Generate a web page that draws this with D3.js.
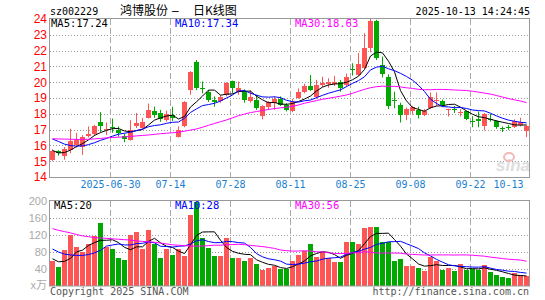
<!DOCTYPE html>
<html><head><meta charset="utf-8">
<script src="https://cdn.jsdelivr.net/npm/d3@7/dist/d3.min.js"></script>
<style>body{margin:0;background:#fff}svg{display:block}</style>
</head><body><svg id="c" width="545" height="300"></svg>
<script>
// ---------- data ----------
const dates = [
"2025-06-16","2025-06-17","2025-06-18","2025-06-19","2025-06-20","2025-06-23","2025-06-24","2025-06-25","2025-06-26","2025-06-27",
"2025-06-30","2025-07-01","2025-07-02","2025-07-03","2025-07-04","2025-07-07","2025-07-08","2025-07-09","2025-07-10","2025-07-11",
"2025-07-14","2025-07-15","2025-07-16","2025-07-17","2025-07-18","2025-07-21","2025-07-22","2025-07-23","2025-07-24","2025-07-25",
"2025-07-28","2025-07-29","2025-07-30","2025-07-31","2025-08-01","2025-08-04","2025-08-05","2025-08-06","2025-08-07","2025-08-08",
"2025-08-11","2025-08-12","2025-08-13","2025-08-14","2025-08-15","2025-08-18","2025-08-19","2025-08-20","2025-08-21","2025-08-22",
"2025-08-25","2025-08-26","2025-08-27","2025-08-28","2025-08-29","2025-09-01","2025-09-02","2025-09-03","2025-09-04","2025-09-05",
"2025-09-08","2025-09-09","2025-09-10","2025-09-11","2025-09-12","2025-09-15","2025-09-16","2025-09-17","2025-09-18","2025-09-19",
"2025-09-22","2025-09-23","2025-09-24","2025-09-25","2025-09-26","2025-09-29","2025-09-30","2025-10-09","2025-10-10","2025-10-13"];

const open  = [15.10,15.62,15.30,15.70,16.05,15.90,16.60,16.75,17.50,16.95,
               17.15,16.98,16.57,16.36,17.20,17.10,17.75,18.18,18.05,17.60,
               17.95,16.55,17.20,19.50,21.28,19.65,19.35,18.85,18.78,19.20,
               20.08,19.35,19.45,18.80,18.90,17.85,18.40,18.68,18.95,18.57,
               18.20,19.00,19.37,19.73,19.05,19.80,19.90,19.88,20.04,19.80,
               20.85,20.45,20.90,22.15,23.90,21.10,20.30,18.85,18.57,17.95,
               18.20,18.25,17.95,18.35,18.78,18.82,18.28,18.32,18.10,18.15,
               17.55,17.68,17.20,17.65,17.56,17.12,17.15,17.16,17.30,16.88];
const high  = [15.75,15.70,15.90,17.05,16.80,16.65,17.20,17.30,18.10,17.45,
               17.70,17.20,16.75,17.60,18.05,17.75,18.65,18.45,18.25,18.20,
               18.45,17.20,18.80,20.70,21.40,20.05,19.50,19.10,19.20,20.00,
               20.10,20.05,19.55,19.50,19.20,18.55,18.80,19.10,19.10,18.67,
               18.95,19.60,19.90,20.45,20.15,20.35,20.25,20.40,20.15,20.55,
               21.20,21.85,23.10,24.00,23.95,21.62,20.50,19.40,18.70,18.40,
               18.50,18.45,18.30,19.35,19.35,18.90,18.32,18.50,18.30,18.20,
               17.85,18.15,18.05,18.00,17.60,17.20,17.30,17.65,17.75,17.30];
const low   = [15.00,15.35,15.10,15.50,15.85,15.40,16.50,16.60,16.85,16.65,
               16.80,16.55,16.20,16.30,17.10,17.05,17.70,17.75,17.50,17.50,
               17.55,16.50,17.15,19.20,19.50,19.30,18.75,18.45,18.70,19.10,
               19.30,19.20,18.70,18.70,18.25,17.65,18.25,18.25,18.50,18.15,
               18.10,18.95,19.30,19.45,18.95,19.70,19.65,19.75,19.40,19.70,
               20.42,20.40,20.85,21.90,21.40,20.30,18.30,18.35,17.45,17.60,
               17.95,17.70,17.85,18.30,18.50,18.45,17.83,18.05,17.83,17.60,
               17.15,17.15,16.95,17.50,17.05,16.85,16.98,17.10,17.20,16.52];
const close = [15.65,15.55,15.80,16.30,16.35,16.55,16.75,17.20,17.20,17.05,
               17.10,16.80,16.42,16.95,17.40,17.45,18.25,17.95,17.65,18.00,
               17.75,17.00,18.75,20.65,19.65,19.55,18.90,18.75,19.05,19.95,
               19.65,19.62,18.90,19.05,18.35,18.50,18.72,18.95,18.57,18.25,
               18.75,19.37,19.73,19.52,19.85,19.98,20.04,20.04,19.62,20.30,
               20.78,21.15,22.15,23.90,21.55,20.53,18.50,18.80,17.95,18.30,
               18.45,17.90,18.20,19.05,18.85,18.55,18.30,18.28,18.12,17.66,
               17.50,17.52,17.98,17.60,17.16,17.08,17.12,17.55,17.50,17.24];
const volume = [59,45,84,121,92,80,100,118,148,92,
                86,67,62,120,126,86,131,98,67,86,
                72,87,70,168,198,112,89,70,70,112,
                67,66,58,66,52,37,42,47,39,41,
                58,74,82,100,68,80,66,56,56,103,
                103,100,136,140,140,103,103,60,63,47,
                47,42,35,68,59,37,42,35,51,38,
                39,38,49,32,27,21,18,30,27,23];

const ma5Head   = [15.68,15.52,15.55,15.70];
const ma10Head  = [16.40,16.25,16.08,15.99,15.95,15.97,16.05,16.17,16.32];
const ma30Head  = [16.42,16.41,16.40,16.39,16.38,16.38,16.39,16.41,16.44,16.48,
                   16.50,16.52,16.54,16.57,16.60,16.63,16.66,16.70,16.74,16.77,
                   16.80,16.84,16.90,16.97,17.04,17.15,17.27,17.39,17.50];
const vma5Head  = [64,57,58,65];
const vma10Head = [87,80,75,73,72,72,74,78,84];
const vma30Head = [135,131,128,125,121,118,116,114,113,112,
                   111,110,109,108,106,105,104,103,101,99,
                   97,96,95,94,94,94,95,96,96];

const priceTicks = [14,15,16,17,18,19,20,21,22,23,24];
const volTicks = [40,80,120,160,200];
const xTickIdx = [10,20,30,40,50,60,70,79];
const xTickLabels = ["2025-06-30","07-14","07-28","08-11","08-25","09-08","09-22","10-13"];
const priceLegend = ["MA5:17.24","MA10:17.34","MA30:18.63"];
const volLegend = ["MA5:20","MA10:28","MA30:56"];
const maColors = ["#000000","#0000ff","#ff00ff"];

// ---------- helpers ----------
function rolling(arr, n, head){
  return arr.map((v,i)=> i < n-1 ? head[i] : d3.mean(arr.slice(i-n+1,i+1)));
}
const RED = "#ff5555", GREEN = "#00a800";
const mono = "'DejaVu Sans Mono', 'Liberation Mono', monospace";

const svg = d3.select("#c");
const N = dates.length;
const x = d3.scaleLinear().domain([0,N]).range([50,530]);
const cx = i => x(i)+2.5;
const yP = d3.scaleLinear().domain([14,24]).range([177,19]);
const yV = d3.scaleLinear().domain([0,200]).range([286,201]);

const P = {top:19,bottom:177}, V = {top:201,bottom:286};

// clip paths
const defs = svg.append("defs");
defs.append("clipPath").attr("id","cp").append("rect").attr("x",50).attr("y",19).attr("width",480).attr("height",158);
defs.append("clipPath").attr("id","cv").append("rect").attr("x",50).attr("y",201).attr("width",480).attr("height",85);

// ---------- grids ----------
function grid(panel, yScale, ticks){
  const g = svg.append("g");
  g.selectAll("line.h").data(ticks).join("line")
    .attr("x1",50).attr("x2",529)
    .attr("y1",d=>Math.round(yScale(d))+0.5).attr("y2",d=>Math.round(yScale(d))+0.5)
    .attr("stroke","#999").attr("stroke-dasharray","1,2");
  g.selectAll("line.v").data(xTickIdx.slice(0,-1)).join("line")
    .attr("x1",d=>x(d)+0.5).attr("x2",d=>x(d)+0.5)
    .attr("y1",panel.top).attr("y2",panel.bottom)
    .attr("stroke","#aaa").attr("stroke-dasharray","6,3");
}
grid(P, yP, priceTicks.filter(t=>t>14&&t<24));
grid(V, yV, volTicks.filter(t=>t<200));

// watermark
const wm = svg.append("g");
wm.append("text").attr("x",496).attr("y",171).attr("font-family","'Liberation Sans',Arial,sans-serif")
  .attr("font-style","italic").attr("font-weight","bold").attr("font-size",17)
  .attr("fill","#dedede").text("sina");
wm.append("ellipse").attr("cx",509).attr("cy",157).attr("rx",5).attr("ry",4)
  .attr("fill","none").attr("stroke","#f3b7b7").attr("stroke-width",2);

// ---------- candles ----------
const cg = svg.append("g").attr("clip-path","url(#cp)");
const idx = d3.range(N);
const col = i => close[i] >= open[i] ? RED : GREEN;
cg.selectAll("rect.w").data(idx).join("rect")
  .attr("x",i=>cx(i)-0.5).attr("width",1)
  .attr("y",i=>yP(high[i])).attr("height",i=>Math.max(1,yP(low[i])-yP(high[i])))
  .attr("fill",col);
cg.selectAll("rect.b").data(idx).join("rect")
  .attr("x",i=>x(i)).attr("width",5)
  .attr("y",i=>Math.round(yP(Math.max(open[i],close[i]))))
  .attr("height",i=>Math.max(1,Math.round(yP(Math.min(open[i],close[i])))-Math.round(yP(Math.max(open[i],close[i])))))
  .attr("fill",col);

const line = ys => d3.line().x((d,i)=>cx(i)).y(d=>ys(d));
const pMA = [rolling(close,5,ma5Head), rolling(close,10,ma10Head), rolling(close,30,ma30Head)];
pMA.forEach((s,k)=>cg.append("path").attr("d",line(yP)(s)).attr("fill","none")
  .attr("stroke",maColors[k]).attr("stroke-width",1));

// ---------- volume ----------
const vg = svg.append("g").attr("clip-path","url(#cv)");
vg.selectAll("rect").data(idx).join("rect")
  .attr("x",i=>x(i)).attr("width",5)
  .attr("y",i=>Math.round(yV(volume[i]))).attr("height",i=>286-Math.round(yV(volume[i])))
  .attr("fill",col);
const vMA = [rolling(volume,5,vma5Head), rolling(volume,10,vma10Head), rolling(volume,30,vma30Head)];
vMA.forEach((s,k)=>vg.append("path").attr("d",line(yV)(s)).attr("fill","none")
  .attr("stroke",maColors[k]).attr("stroke-width",1));

// ---------- borders ----------
svg.append("rect").attr("x",49.5).attr("y",18.5).attr("width",480).attr("height",159)
  .attr("fill","none").attr("stroke","#999");
svg.append("rect").attr("x",49.5).attr("y",200.5).attr("width",480).attr("height",85.5)
  .attr("fill","none").attr("stroke","#999");

// ---------- axes ----------
const ay = svg.append("g").attr("transform","translate(47,0)")
  .call(d3.axisLeft(yP).tickValues(priceTicks).tickSize(0).tickPadding(0).tickFormat(d3.format("d")));
ay.select(".domain").remove();
ay.selectAll("text").attr("fill","#ff0000").attr("font-family","'Liberation Sans',Arial,sans-serif").attr("font-size",12);

const av = svg.append("g").attr("transform","translate(47,0)")
  .call(d3.axisLeft(yV).tickValues(volTicks).tickSize(0).tickPadding(0).tickFormat(d3.format("d")));
av.select(".domain").remove();
av.selectAll("text").attr("fill","#aaa").attr("font-family","'Liberation Sans',Arial,sans-serif").attr("font-size",11);
svg.append("text").attr("x",47).attr("y",289).attr("text-anchor","end").attr("fill","#aaa")
  .attr("font-family","'Liberation Sans','Noto Sans CJK SC',sans-serif").attr("font-size",11).text("x万");

const ax = svg.append("g").attr("transform","translate(0,181)")
  .call(d3.axisBottom(d3.scaleLinear().domain([0,N]).range([50,530])).tickValues(xTickIdx)
    .tickSize(0).tickPadding(0).tickFormat((d,k)=>xTickLabels[k]));
ax.select(".domain").remove();
ax.selectAll("text").attr("fill","#1a7fd0").attr("font-family",mono).attr("font-size",10).attr("dy","0.71em");
ax.selectAll(".tick").filter((d,k)=>k===xTickIdx.length-1).select("text")
  .attr("text-anchor","end").attr("x",-1);

// ---------- titles & legends ----------
const T = (xx,yy,txt,fill,size,fam,anchor) => svg.append("text").attr("x",xx).attr("y",yy)
  .attr("fill",fill).attr("font-size",size).attr("font-family",fam||mono)
  .attr("text-anchor",anchor||"start").text(txt);
T(50,15,"sz002229","#000",10);
T(120,15,"鸿博股份","#000",12,"'Noto Sans CJK SC',sans-serif");
T(172,15,"–","#000",12,"'Liberation Sans',sans-serif");
T(193,15,"日K线图","#000",12,"'Noto Sans CJK SC',sans-serif");
T(530,15,"2025-10-13 14:24:45","#000",10,mono,"end");

const lx = [51,175,295];
priceLegend.forEach((t,k)=>T(lx[k],27,t,maColors[k],10.5));
volLegend.forEach((t,k)=>T(k===0?54:lx[k],209,t,maColors[k],10.5));

T(50,295,"Copyright 2025 SINA.COM","#555",10);
T(529,295,"http://finance.sina.com.cn","#555",10,mono,"end");
</script></body></html>
